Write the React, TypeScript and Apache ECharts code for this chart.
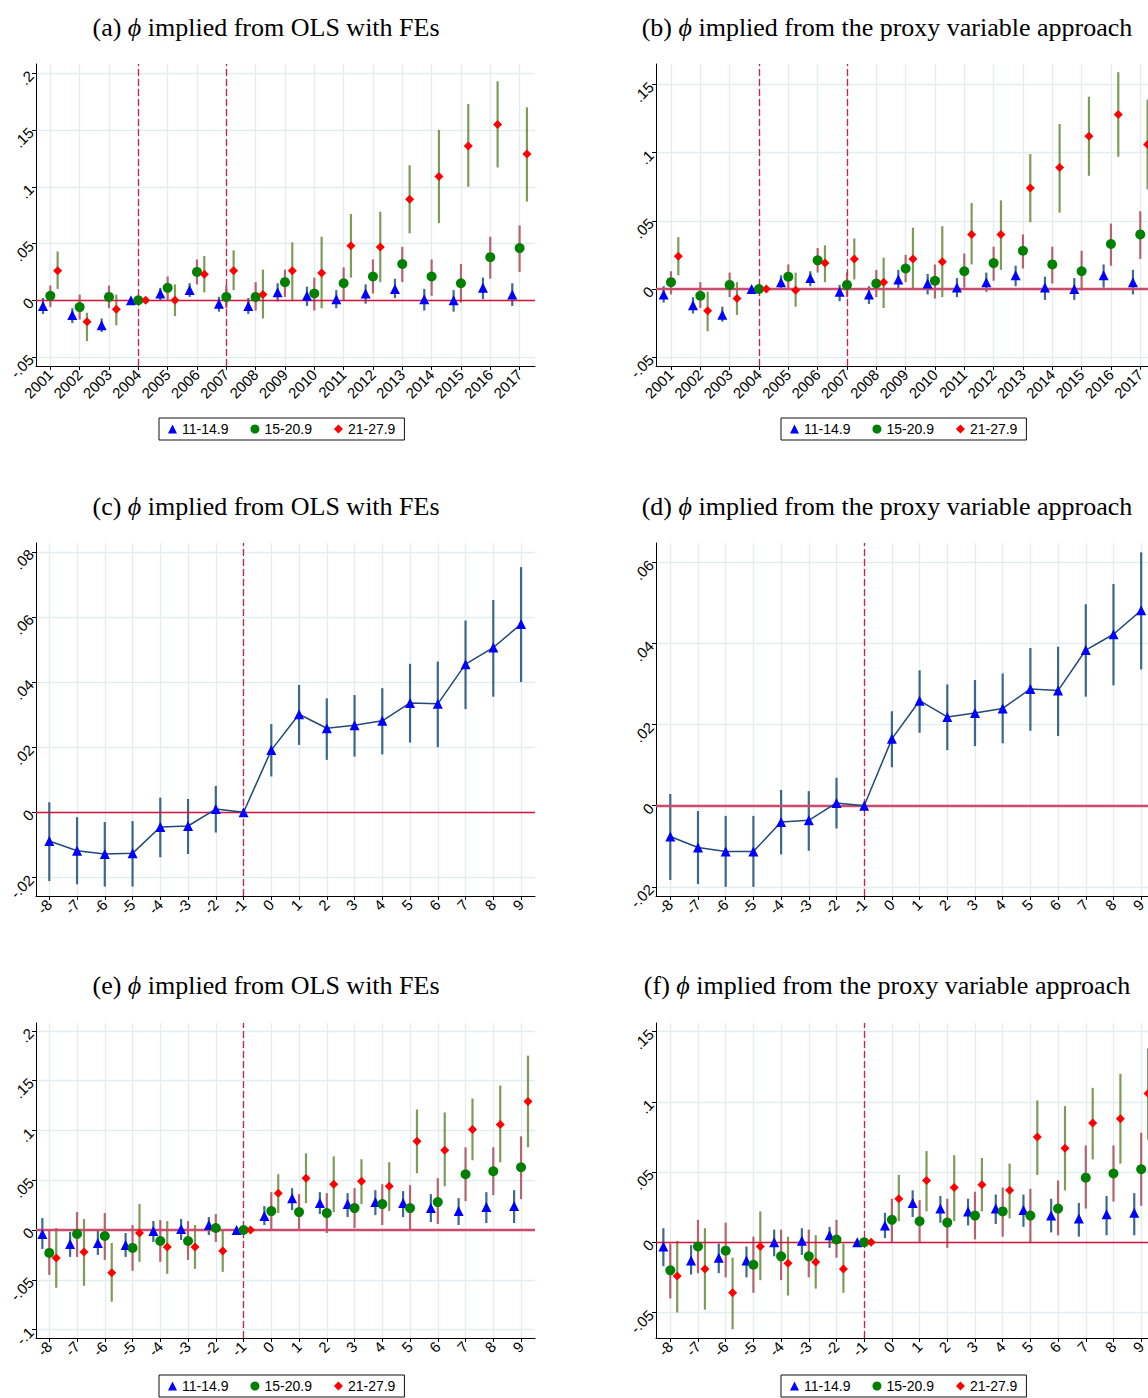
import React, { useEffect, useRef } from 'react';
import * as echarts from 'echarts';

// ---------------- data ----------------
const years = [2001, 2002, 2003, 2004, 2005, 2006, 2007, 2008, 2009, 2010, 2011, 2012, 2013, 2014, 2015, 2016, 2017];
const eventTimes = [-8, -7, -6, -5, -4, -3, -2, -1, 0, 1, 2, 3, 4, 5, 6, 7, 8, 9];
const groupNames = ['11-14.9', '15-20.9', '21-27.9'];

const aYTicks = [-0.05, 0, 0.05, 0.1, 0.15, 0.2];
const bYTicks = [-0.05, 0, 0.05, 0.1, 0.15];
const cYTicks = [-0.02, 0, 0.02, 0.04, 0.06, 0.08];
const dYTicks = [-0.02, 0, 0.02, 0.04, 0.06];
const eYTicks = [-0.1, -0.05, 0, 0.05, 0.1, 0.15, 0.2];
const fYTicks = [-0.05, 0, 0.05, 0.1, 0.15];

// [estimate, ci low, ci high]
const aBlue = [[-0.005, -0.012, 0.002], [-0.013, -0.020, -0.007], [-0.022, -0.028, -0.016], [0, null, null], [0.006, 0.000, 0.011], [0.009, 0.003, 0.015], [-0.003, -0.010, 0.003], [-0.005, -0.012, 0.002], [0.007, -0.001, 0.015], [0.004, -0.005, 0.012], [0.001, -0.007, 0.009], [0.006, -0.003, 0.014], [0.010, 0.002, 0.019], [0.001, -0.009, 0.010], [0.000, -0.010, 0.009], [0.011, 0.001, 0.020], [0.005, -0.005, 0.015]];
const aGreen = [[0.004, -0.006, 0.013], [-0.006, -0.017, 0.005], [0.003, -0.007, 0.013], [0, null, null], [0.011, 0.000, 0.021], [0.025, 0.014, 0.036], [0.003, -0.007, 0.013], [0.003, -0.009, 0.016], [0.016, 0.003, 0.027], [0.006, -0.009, 0.020], [0.015, 0.000, 0.029], [0.021, 0.006, 0.036], [0.032, 0.016, 0.047], [0.021, 0.004, 0.036], [0.015, -0.002, 0.032], [0.038, 0.019, 0.056], [0.046, 0.025, 0.066]];
const aRed = [[0.026, 0.010, 0.043], [-0.019, -0.036, -0.011], [-0.008, -0.022, 0.005], [0, null, null], [0.000, -0.014, 0.014], [0.023, 0.007, 0.039], [0.026, 0.009, 0.044], [0.005, -0.016, 0.027], [0.026, 0.000, 0.051], [0.024, -0.007, 0.056], [0.048, 0.020, 0.076], [0.047, 0.016, 0.078], [0.089, 0.059, 0.119], [0.109, 0.068, 0.150], [0.136, 0.100, 0.173], [0.155, 0.117, 0.193], [0.129, 0.087, 0.170]];

const bBlue = [[-0.004, -0.010, 0.002], [-0.012, -0.018, -0.006], [-0.019, -0.024, -0.013], [0, null, null], [0.005, 0.000, 0.010], [0.008, 0.002, 0.013], [-0.002, -0.009, 0.003], [-0.004, -0.011, 0.002], [0.007, 0.000, 0.014], [0.004, -0.004, 0.011], [0.001, -0.006, 0.008], [0.005, -0.002, 0.012], [0.010, 0.002, 0.017], [0.001, -0.008, 0.009], [0.000, -0.008, 0.008], [0.010, 0.001, 0.018], [0.005, -0.004, 0.014]];
const bGreen = [[0.005, -0.004, 0.013], [-0.005, -0.014, 0.005], [0.003, -0.006, 0.012], [0, null, null], [0.009, 0.000, 0.018], [0.021, 0.012, 0.030], [0.003, -0.006, 0.012], [0.004, -0.006, 0.014], [0.015, 0.005, 0.025], [0.006, -0.007, 0.018], [0.013, 0.001, 0.026], [0.019, 0.006, 0.031], [0.028, 0.015, 0.040], [0.018, 0.004, 0.031], [0.013, -0.001, 0.028], [0.033, 0.017, 0.048], [0.040, 0.022, 0.057]];
const bRed = [[0.024, 0.010, 0.038], [-0.016, -0.031, -0.002], [-0.007, -0.019, 0.005], [0, null, null], [-0.001, -0.013, 0.012], [0.019, 0.005, 0.032], [0.022, 0.007, 0.037], [0.005, -0.014, 0.023], [0.022, 0.000, 0.045], [0.020, -0.006, 0.046], [0.040, 0.018, 0.063], [0.040, 0.014, 0.065], [0.074, 0.049, 0.099], [0.089, 0.056, 0.121], [0.112, 0.083, 0.141], [0.128, 0.097, 0.159], [0.106, 0.073, 0.139]];

const cEst = [[-0.0088, -0.0211, 0.0031], [-0.0118, -0.0221, -0.0015], [-0.0128, -0.0228, -0.0030], [-0.0126, -0.0228, -0.0027], [-0.0045, -0.0138, 0.0045], [-0.0042, -0.0128, 0.0041], [0.0010, -0.0062, 0.0081], [0, null, null], [0.0191, 0.0110, 0.0271], [0.0301, 0.0207, 0.0391], [0.0258, 0.0161, 0.0350], [0.0267, 0.0171, 0.0360], [0.0281, 0.0178, 0.0381], [0.0336, 0.0214, 0.0456], [0.0333, 0.0200, 0.0463], [0.0455, 0.0317, 0.0589], [0.0506, 0.0355, 0.0652], [0.0578, 0.0400, 0.0753]];
const dEst = [[-0.0076, -0.0183, 0.0029], [-0.0103, -0.0193, -0.0013], [-0.0113, -0.0200, -0.0025], [-0.0113, -0.0200, -0.0025], [-0.0040, -0.0120, 0.0039], [-0.0036, -0.0111, 0.0036], [0.0007, -0.0056, 0.0069], [0, null, null], [0.0165, 0.0095, 0.0233], [0.0259, 0.0180, 0.0334], [0.0219, 0.0137, 0.0299], [0.0229, 0.0147, 0.0310], [0.0240, 0.0154, 0.0326], [0.0288, 0.0185, 0.0389], [0.0284, 0.0172, 0.0392], [0.0384, 0.0269, 0.0497], [0.0423, 0.0297, 0.0547], [0.0482, 0.0336, 0.0625]];

const eBlue = [[-0.004, -0.019, 0.012], [-0.014, -0.027, -0.002], [-0.013, -0.025, -0.001], [-0.015, -0.027, -0.003], [-0.001, -0.012, 0.009], [0.001, -0.010, 0.011], [0.005, -0.005, 0.013], [0, null, null], [0.014, 0.005, 0.024], [0.032, 0.020, 0.042], [0.027, 0.016, 0.038], [0.026, 0.013, 0.037], [0.028, 0.015, 0.040], [0.027, 0.013, 0.039], [0.022, 0.008, 0.036], [0.019, 0.005, 0.032], [0.023, 0.007, 0.038], [0.024, 0.007, 0.040]];
const eGreen = [[-0.023, -0.045, 0.000], [-0.004, -0.027, 0.018], [-0.006, -0.030, 0.017], [-0.018, -0.041, 0.005], [-0.011, -0.032, 0.010], [-0.011, -0.030, 0.009], [0.002, -0.012, 0.016], [0, null, null], [0.019, 0.000, 0.038], [0.018, 0.000, 0.036], [0.017, -0.003, 0.037], [0.022, 0.002, 0.042], [0.026, 0.005, 0.046], [0.022, 0.000, 0.045], [0.028, 0.006, 0.052], [0.056, 0.029, 0.083], [0.059, 0.035, 0.083], [0.063, 0.031, 0.094]];
const eRed = [[-0.028, -0.058, 0.002], [-0.022, -0.056, 0.011], [-0.043, -0.072, -0.013], [-0.003, -0.032, 0.026], [-0.017, -0.044, 0.009], [-0.017, -0.039, 0.005], [-0.021, -0.042, 0.000], [0, null, null], [0.037, 0.017, 0.056], [0.052, 0.027, 0.077], [0.046, 0.018, 0.074], [0.049, 0.026, 0.071], [0.044, 0.019, 0.068], [0.089, 0.057, 0.121], [0.080, 0.044, 0.118], [0.101, 0.070, 0.132], [0.106, 0.068, 0.145], [0.129, 0.083, 0.175]];

const fBlue = [[-0.003, -0.017, 0.010], [-0.013, -0.023, -0.002], [-0.011, -0.022, -0.001], [-0.013, -0.025, -0.003], [0.000, -0.010, 0.009], [0.001, -0.009, 0.010], [0.005, -0.004, 0.011], [0, null, null], [0.012, 0.003, 0.021], [0.028, 0.018, 0.037], [0.024, 0.014, 0.033], [0.022, 0.012, 0.031], [0.024, 0.013, 0.034], [0.023, 0.011, 0.034], [0.019, 0.007, 0.031], [0.017, 0.004, 0.028], [0.020, 0.005, 0.033], [0.021, 0.005, 0.035]];
const fGreen = [[-0.020, -0.040, -0.001], [-0.003, -0.022, 0.016], [-0.006, -0.025, 0.014], [-0.016, -0.036, 0.004], [-0.010, -0.027, 0.009], [-0.010, -0.025, 0.009], [0.002, -0.011, 0.016], [0, null, null], [0.016, 0.000, 0.031], [0.015, 0.000, 0.030], [0.014, -0.004, 0.031], [0.019, 0.002, 0.036], [0.022, 0.004, 0.039], [0.019, 0.000, 0.038], [0.024, 0.005, 0.044], [0.046, 0.024, 0.069], [0.049, 0.029, 0.069], [0.052, 0.026, 0.078]];
const fRed = [[-0.024, -0.050, 0.001], [-0.019, -0.048, 0.010], [-0.036, -0.062, -0.011], [-0.003, -0.027, 0.022], [-0.015, -0.038, 0.004], [-0.014, -0.033, 0.005], [-0.019, -0.036, -0.001], [0, null, null], [0.031, 0.015, 0.048], [0.044, 0.022, 0.065], [0.039, 0.015, 0.062], [0.041, 0.022, 0.060], [0.037, 0.017, 0.056], [0.075, 0.048, 0.101], [0.067, 0.037, 0.097], [0.085, 0.059, 0.110], [0.088, 0.056, 0.120], [0.106, 0.073, 0.138]];

// ---------------- styling / layout ----------------
const SANS = '"Liberation Sans", Arial, Helvetica, sans-serif';
const SERIF = '"Liberation Serif", "Times New Roman", "DejaVu Serif", serif';
const GRID_COLOR = '#e2edf0';
const MARKER = [
  { color: '#0000ff', symbol: 'triangle', size: 10, ci: '#1f4f7e', ciOpacity: 0.85 },
  { color: '#008000', symbol: 'circle', size: 10, ci: '#a23442', ciOpacity: 0.75 },
  { color: '#ff0000', symbol: 'diamond', size: 9, ci: '#5b7d2a', ciOpacity: 0.78 },
];
const OFFSETS = [-0.25, 0, 0.25];

type Panel = {
  title: string;
  tx: number;
  ty: number;
  grid: { left: number; top: number; width: number; height: number };
  xr: [number, number];
  yr: [number, number];
  xs: number[];
  yTicks: number[];
  vlines: number[];
  thickZero: boolean;
  kind: 'scatter' | 'line';
  groups?: any[][];
  est?: any[];
  legend?: { left: number; top: number };
};

const panels: Panel[] = [
  { title: '(a) {i|ϕ} implied from OLS with FEs', tx: 266, ty: 27, grid: { left: 36, top: 64, width: 499, height: 302 }, xr: [2000.512, 2017.525], yr: [-0.0579, 0.2082], xs: years, yTicks: aYTicks, vlines: [2004, 2007], thickZero: false, kind: 'scatter', groups: [aBlue, aGreen, aRed], legend: { left: 159, top: 418 } },
  { title: '(b) {i|ϕ} implied from the proxy variable approach', tx: 887, ty: 27, grid: { left: 656, top: 64, width: 499, height: 302 }, xr: [2000.489, 2017.502], yr: [-0.0565, 0.165], xs: years, yTicks: bYTicks, vlines: [2004, 2007], thickZero: true, kind: 'scatter', groups: [bBlue, bGreen, bRed], legend: { left: 781, top: 418 } },
  { title: '(c) {i|ϕ} implied from OLS with FEs', tx: 266, ty: 506, grid: { left: 36, top: 543, width: 499, height: 353 }, xr: [-8.479, 9.503], yr: [-0.0257, 0.0827], xs: eventTimes, yTicks: cYTicks, vlines: [-1], thickZero: false, kind: 'line', est: cEst },
  { title: '(d) {i|ϕ} implied from the proxy variable approach', tx: 887, ty: 506, grid: { left: 656, top: 543, width: 499, height: 353 }, xr: [-8.516, 9.499], yr: [-0.02226, 0.0648], xs: eventTimes, yTicks: dYTicks, vlines: [-1], thickZero: true, kind: 'line', est: dEst },
  { title: '(e) {i|ϕ} implied from OLS with FEs', tx: 266, ty: 985, grid: { left: 36, top: 1023, width: 499, height: 315 }, xr: [-8.479, 9.503], yr: [-0.1084, 0.2078], xs: eventTimes, yTicks: eYTicks, vlines: [-1], thickZero: true, kind: 'scatter', groups: [eBlue, eGreen, eRed], legend: { left: 159, top: 1375 } },
  { title: '(f) {i|ϕ} implied from the proxy variable approach', tx: 887, ty: 985, grid: { left: 656, top: 1023, width: 499, height: 315 }, xr: [-8.516, 9.499], yr: [-0.0682, 0.1562], xs: eventTimes, yTicks: fYTicks, vlines: [-1], thickZero: false, kind: 'scatter', groups: [fBlue, fGreen, fRed], legend: { left: 781, top: 1375 } },
];

function fmtY(v: number): string {
  if (Math.abs(v) < 1e-10) return '0';
  const s = String(parseFloat(v.toFixed(4)));
  return s.replace(/^(-?)0\./, '$1.');
}

function ciSeries(name: string, gi: number, xs: number[], arr: any[], off: number, color: string, opacity: number) {
  const data = xs
    .map((x, i) => (arr[i][1] == null ? null : [x + off, arr[i][1], arr[i][2]]))
    .filter((d) => d !== null);
  return {
    type: 'custom',
    name,
    xAxisIndex: gi,
    yAxisIndex: gi,
    z: 2,
    silent: true,
    data,
    encode: { x: 0, y: [1, 2] },
    renderItem: (params: any, api: any) => {
      const x = api.value(0);
      const p1 = api.coord([x, api.value(1)]);
      const p2 = api.coord([x, api.value(2)]);
      return {
        type: 'line',
        shape: { x1: p1[0], y1: p1[1], x2: p2[0], y2: p2[1] },
        style: { stroke: color, lineWidth: 2.2, opacity },
      };
    },
  };
}

function buildOption() {
  const grids: any[] = [];
  const xAxes: any[] = [];
  const yAxes: any[] = [];
  const series: any[] = [];
  const legends: any[] = [];
  const graphics: any[] = [];

  panels.forEach((p, gi) => {
    grids.push({ ...p.grid, containLabel: false, outerBoundsMode: 'none', show: false });
    xAxes.push({
      type: 'value',
      gridIndex: gi,
      min: p.xr[0],
      max: p.xr[1],
      axisLine: { show: true, onZero: false, lineStyle: { color: '#000', width: 1 } },
      axisTick: { show: true, length: 4, customValues: p.xs, lineStyle: { color: '#000', width: 1 } },
      axisLabel: {
        show: true,
        customValues: p.xs,
        rotate: 45,
        margin: 6,
        fontFamily: SANS,
        fontSize: 15,
        color: '#000',
        formatter: (v: number) => String(Math.round(v)),
      },
      splitLine: { show: true, lineStyle: { color: GRID_COLOR, width: 1.3 } },
    });
    yAxes.push({
      type: 'value',
      gridIndex: gi,
      min: p.yr[0],
      max: p.yr[1],
      axisLine: { show: true, onZero: false, lineStyle: { color: '#000', width: 1 } },
      axisTick: { show: true, length: 4, customValues: p.yTicks, lineStyle: { color: '#000', width: 1 } },
      axisLabel: {
        show: true,
        customValues: p.yTicks,
        rotate: 45,
        margin: 5,
        fontFamily: SANS,
        fontSize: 15,
        color: '#000',
        formatter: (v: number) => fmtY(v),
      },
      splitLine: { show: true, lineStyle: { color: GRID_COLOR, width: 1.3 } },
    });

    const zeroStyle = p.thickZero
      ? { color: '#cc4a6c', width: 2.4, type: 'solid' }
      : { color: '#d4163f', width: 1.3, type: 'solid' };
    series.push({
      type: 'scatter',
      name: 'ref-' + gi,
      xAxisIndex: gi,
      yAxisIndex: gi,
      data: [],
      z: 3,
      silent: true,
      markLine: {
        silent: true,
        z: 3,
        symbol: ['none', 'none'],
        label: { show: false },
        emphasis: { disabled: true },
        data: [
          { yAxis: 0, lineStyle: zeroStyle },
          ...p.vlines.map((v) => ({ xAxis: v, lineStyle: { color: '#d11f4b', width: 1.3, type: [7, 3] } })),
        ],
      },
    });

    if (p.kind === 'scatter' && p.groups) {
      p.groups.forEach((arr, k) => {
        const m = MARKER[k];
        series.push(ciSeries('ci-' + gi + '-' + k, gi, p.xs, arr, OFFSETS[k], m.ci, m.ciOpacity));
      });
      p.groups.forEach((arr, k) => {
        const m = MARKER[k];
        series.push({
          type: 'scatter',
          name: groupNames[k],
          xAxisIndex: gi,
          yAxisIndex: gi,
          z: 4,
          symbol: m.symbol,
          symbolSize: m.size,
          itemStyle: { color: m.color, borderWidth: 0, opacity: 1 },
          data: p.xs.map((x, i) => [x + OFFSETS[k], arr[i][0]]),
        });
      });
    } else if (p.est) {
      series.push(ciSeries('ci-' + gi, gi, p.xs, p.est, 0, '#2b5680', 0.9));
      series.push({
        type: 'line',
        name: 'est-' + gi,
        xAxisIndex: gi,
        yAxisIndex: gi,
        z: 4,
        symbol: 'triangle',
        symbolSize: 10,
        showSymbol: true,
        itemStyle: { color: '#0000ff', borderWidth: 0 },
        lineStyle: { color: '#1f4a78', width: 1.5 },
        data: p.xs.map((x, i) => [x, p.est![i][0]]),
      });
    }

    if (p.legend) {
      legends.push({
        left: p.legend.left,
        top: p.legend.top,
        orient: 'horizontal',
        selectedMode: false,
        backgroundColor: '#fff',
        borderColor: '#111',
        borderWidth: 1,
        borderRadius: 0,
        padding: [4, 9],
        itemGap: 22,
        itemWidth: 9,
        itemHeight: 9,
        textStyle: { fontFamily: SANS, fontSize: 14, color: '#000' },
        data: groupNames.map((n, k) => ({ name: n, icon: MARKER[k].symbol, itemStyle: { color: MARKER[k].color } })),
      });
    }

    graphics.push({
      type: 'text',
      x: p.tx,
      y: p.ty,
      silent: true,
      style: {
        text: p.title,
        align: 'center',
        verticalAlign: 'middle',
        fontFamily: SERIF,
        fontSize: 26,
        fill: '#000',
        rich: { i: { fontStyle: 'italic', fontFamily: SERIF, fontSize: 26, fill: '#000' } },
      },
    });
  });

  return {
    animation: false,
    backgroundColor: '#ffffff',
    textStyle: { fontFamily: SANS },
    grid: grids,
    xAxis: xAxes,
    yAxis: yAxes,
    series,
    legend: legends,
    graphic: graphics,
  };
}

export default function App() {
  const ref = useRef<HTMLDivElement>(null);
  useEffect(() => {
    if (!ref.current) return;
    const chart = echarts.init(ref.current, null, { renderer: 'svg' });
    chart.setOption(buildOption() as any);
    return () => chart.dispose();
  }, []);
  return (
    <div
      ref={ref}
      style={{ position: 'absolute', left: 0, top: 0, width: 1148, height: 1398, background: '#fff', overflow: 'hidden' }}
    />
  );
}
